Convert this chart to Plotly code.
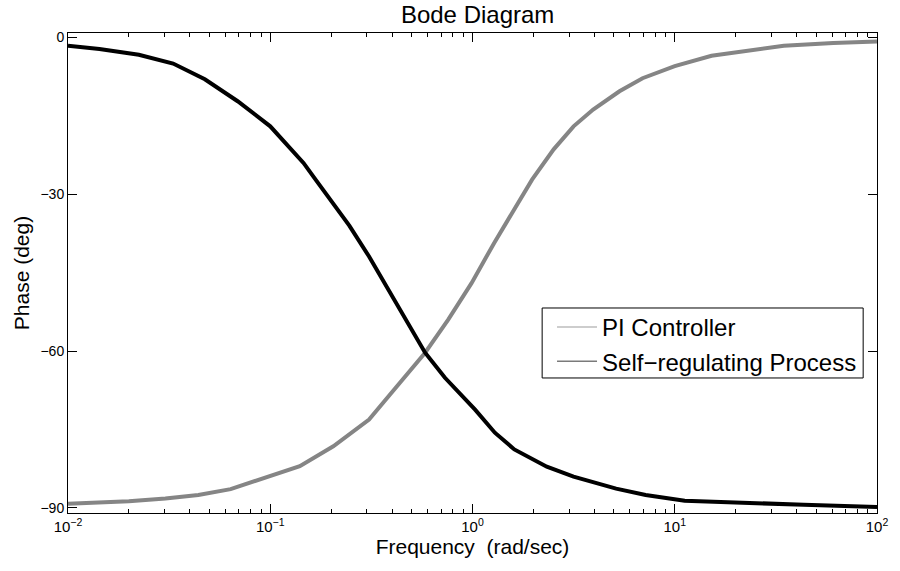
import plotly.graph_objects as go

# Phase response of the PI controller (rad/sec, deg)
pi_freq = [0.01, 0.02, 0.0303, 0.0441, 0.0637, 0.0931, 0.14, 0.205, 0.308, 0.372,
           0.45, 0.583, 0.757, 0.989, 1.28, 1.61, 1.97, 2.52, 3.16, 3.95,
           5.33, 6.93, 10.0, 15.2, 23.9, 34.6, 60.8, 100.0]
pi_phase = [-89.2, -88.7, -88.2, -87.5, -86.4, -84.3, -82.0, -78.2, -73.1, -69.3,
            -65.5, -60.3, -54.0, -47.0, -39.3, -32.9, -27.2, -21.4, -17.0, -13.8,
            -10.3, -7.8, -5.5, -3.5, -2.35, -1.6, -1.07, -0.76]

# Phase response of the self-regulating (first-order lag) process
proc_freq = [0.01, 0.0143, 0.0224, 0.0331, 0.0475, 0.069, 0.1, 0.146, 0.169, 0.196,
             0.212, 0.246, 0.308, 0.385, 0.482, 0.583, 0.731, 1.03, 1.29, 1.61,
             2.33, 3.16, 5.13, 7.18, 11.2, 20.6, 43.4, 100.0]
proc_phase = [-1.6, -2.2, -3.3, -5.0, -8.0, -12.2, -17.0, -24.0, -27.4, -30.8,
              -32.6, -36.0, -41.9, -48.3, -54.6, -60.3, -65.1, -71.2, -75.6, -78.8,
              -82.1, -84.0, -86.3, -87.5, -88.6, -89.0, -89.4, -89.8]

series_names = ["PI Controller", "Self\u2212regulating Process"]

xtick_vals = [0.01, 0.1, 1, 10, 100]
xtick_text = ["10<sup>\u22122</sup>", "10<sup>\u22121</sup>", "10<sup>0</sup>",
              "10<sup>1</sup>", "10<sup>2</sup>"]
ytick_vals = [0, -30, -60, -90]

FONT = "Liberation Sans, Arial, Helvetica, sans-serif"

fig = go.Figure()

# plotted curves (legend entries drawn separately below)
fig.add_trace(go.Scatter(x=pi_freq, y=pi_phase, mode="lines",
                         line=dict(color="#858585", width=4), showlegend=False))
fig.add_trace(go.Scatter(x=proc_freq, y=proc_phase, mode="lines",
                         line=dict(color="#000000", width=4), showlegend=False))

# legend keys
fig.add_trace(go.Scatter(x=[None], y=[None], mode="lines", name=series_names[0],
                         line=dict(color="#bdbdbd", width=1.5)))
fig.add_trace(go.Scatter(x=[None], y=[None], mode="lines", name=series_names[1],
                         line=dict(color="#7a7a7a", width=1.5)))

# legend frame, kept tight around the two entries
fig.add_shape(type="rect", xref="paper", yref="paper",
              x0=0.5861, x1=0.9829, y0=0.2813, y1=0.4271,
              line=dict(color="black", width=1), fillcolor="white", layer="above")

fig.update_layout(
    width=900, height=571,
    margin=dict(l=68, r=13, t=33, b=58),
    paper_bgcolor="white", plot_bgcolor="white",
    font=dict(family=FONT, color="black"),
    title=dict(text="Bode Diagram", x=0.5307, xanchor="center",
               y=1 - 15 / 571, yanchor="middle", yref="container",
               font=dict(size=24, color="black")),
    legend=dict(x=0.5983, y=0.4333, xanchor="left", yanchor="top",
                bgcolor="rgba(0,0,0,0)", borderwidth=0,
                font=dict(size=24, color="black"), itemwidth=40),
)

fig.update_xaxes(
    type="log", range=[-2, 2],
    tickmode="array", tickvals=xtick_vals, ticktext=xtick_text,
    ticks="inside", ticklen=9, tickwidth=1, tickcolor="black",
    minor=dict(dtick="D1", ticks="inside", ticklen=4, tickwidth=1,
               tickcolor="black", showgrid=False),
    showline=True, linecolor="black", linewidth=1, mirror="ticks",
    showgrid=False, zeroline=False,
    tickfont=dict(size=15, color="black"),
    title=dict(text="Frequency  (rad/sec)", font=dict(size=21), standoff=5),
)

fig.update_yaxes(
    range=[-90.96, 0.85],
    tickmode="array", tickvals=ytick_vals,
    ticks="inside", ticklen=9, tickwidth=1, tickcolor="black",
    showline=True, linecolor="black", linewidth=1, mirror="ticks",
    showgrid=False, zeroline=False,
    tickfont=dict(size=14, color="black"),
    title=dict(text="Phase (deg)", font=dict(size=21), standoff=5),
)

fig.write_html("out.html")
